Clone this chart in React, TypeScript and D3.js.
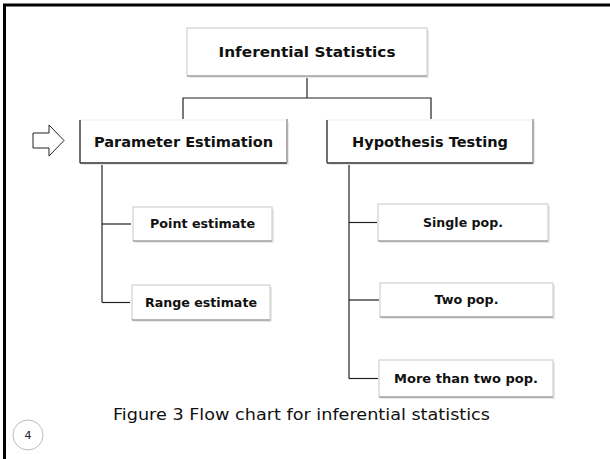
import React from "react";
import * as d3 from "d3";

const rootLabel = "Inferential Statistics";
const branchLabels = ["Parameter Estimation", "Hypothesis Testing"];
const leftLeaves = ["Point estimate", "Range estimate"];
const rightLeaves = ["Single pop.", "Two pop.", "More than two pop."];
const caption = "Figure 3 Flow chart for inferential statistics";
const pageNumber = "4";

type Box = { x: number; y: number; w: number; h: number; label: string; tw: number; fs: number; heavy?: boolean };

const FONT = "'DejaVu Sans', sans-serif";

const rootBox: Box = { x: 187, y: 28, w: 240, h: 48, label: rootLabel, tw: 177, fs: 14 };
const branchBoxes: Box[] = [
  { x: 80, y: 120, w: 207, h: 43, label: branchLabels[0], tw: 179, fs: 14, heavy: true },
  { x: 327, y: 120, w: 206, h: 43, label: branchLabels[1], tw: 156, fs: 14, heavy: true },
];
const leftBoxes: Box[] = [
  { x: 133, y: 207, w: 139, h: 34, label: leftLeaves[0], tw: 105, fs: 12 },
  { x: 132, y: 285, w: 138, h: 35, label: leftLeaves[1], tw: 112, fs: 12 },
];
const rightBoxes: Box[] = [
  { x: 378, y: 204, w: 170, h: 37, label: rightLeaves[0], tw: 80, fs: 12 },
  { x: 380, y: 283, w: 173, h: 34, label: rightLeaves[1], tw: 64, fs: 12 },
  { x: 379, y: 360, w: 174, h: 37, label: rightLeaves[2], tw: 144, fs: 12 },
];

function BoxNode({ b }: { b: Box }) {
  return (
    <g>
      <rect x={b.x + 2} y={b.y + 2} width={b.w} height={b.h} fill="#e8e8e8" />
      <rect x={b.x} y={b.y} width={b.w} height={b.h} fill="#fff" stroke={b.heavy ? "#f0f0f0" : "#c8c8c8"} strokeWidth={1} />
      <line x1={b.x} x2={b.x + b.w} y1={b.y + b.h} y2={b.y + b.h} stroke={b.heavy ? "#333" : "#8a8a8a"} strokeWidth={b.heavy ? 1.5 : 1.2} />
      {b.heavy && (
        <>
          <line x1={b.x} x2={b.x} y1={b.y} y2={b.y + b.h} stroke="#444" strokeWidth={1.5} />
          <line x1={b.x + b.w} x2={b.x + b.w} y1={b.y - 1} y2={b.y + b.h} stroke="#999" strokeWidth={1.5} />
        </>
      )}
      <text
        x={b.x + b.w / 2}
        y={b.y + b.h / 2}
        textAnchor="middle"
        dominantBaseline="central"
        fontFamily={FONT}
        fontWeight="bold"
        fontSize={b.fs}
        fill="#111"
        textLength={b.tw}
        lengthAdjust="spacingAndGlyphs"
      >
        {b.label}
      </text>
    </g>
  );
}

export default function App() {
  const line = d3.line<[number, number]>();
  const rootCx = 307;
  const barY = 98;
  const connectors: [number, number][][] = [
    [[rootCx, rootBox.y + rootBox.h], [rootCx, barY]],
    [[183, 119], [183, barY], [431, barY], [431, 119]],
  ];
  const leftTrunkX = 102;
  const rightTrunkX = 349;
  const leftYs = leftBoxes.map((b) => b.y + b.h / 2);
  const rightYs = rightBoxes.map((b) => b.y + b.h / 2);
  connectors.push([[leftTrunkX, 163], [leftTrunkX, d3.max(leftYs)!]]);
  leftBoxes.forEach((b, i) => connectors.push([[leftTrunkX, leftYs[i]], [b.x - 2, leftYs[i]]]));
  connectors.push([[rightTrunkX, 163], [rightTrunkX, d3.max(rightYs)!]]);
  rightBoxes.forEach((b, i) => connectors.push([[rightTrunkX, rightYs[i]], [b.x - 1, rightYs[i]]]));

  const arrow: [number, number][] = [
    [33, 133], [49, 133], [49, 125], [64, 140.5], [49, 156], [49, 148], [33, 148],
  ];

  return (
    <svg width={610} height={459} style={{ position: "absolute", left: 0, top: 0 }}>
      <rect x={0} y={0} width={610} height={459} fill="#fff" />
      <line x1={3} x2={610} y1={5} y2={5} stroke="#000" strokeWidth={3} />
      <line x1={4.5} x2={4.5} y1={4} y2={459} stroke="#000" strokeWidth={3} />
      {connectors.map((c, i) => (
        <path key={i} d={line(c)!} fill="none" stroke="#222" strokeWidth={1.2} />
      ))}
      <path d={line(arrow)! + "Z"} fill="#fff" stroke="#222" strokeWidth={1} />
      <BoxNode b={rootBox} />
      {branchBoxes.map((b, i) => <BoxNode key={"b" + i} b={b} />)}
      {leftBoxes.map((b, i) => <BoxNode key={"l" + i} b={b} />)}
      {rightBoxes.map((b, i) => <BoxNode key={"r" + i} b={b} />)}
      <text x={113} y={420} fontFamily={FONT} fontSize={15} fill="#111" textLength={377} lengthAdjust="spacingAndGlyphs">
        {caption}
      </text>
      <circle cx={28} cy={435} r={15} fill="#fff" stroke="#bbb" strokeWidth={1} />
      <text x={28} y={435} textAnchor="middle" dominantBaseline="central" fontFamily={FONT} fontSize={11} fill="#222">
        {pageNumber}
      </text>
    </svg>
  );
}
